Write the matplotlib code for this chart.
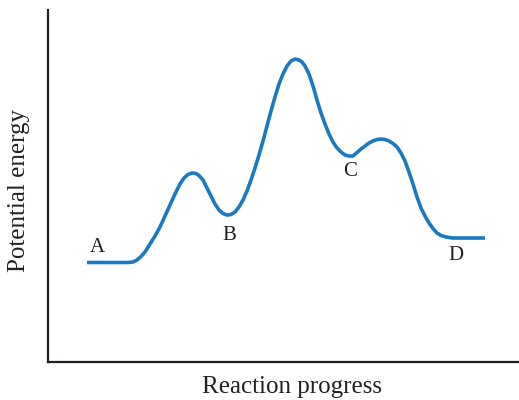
import matplotlib.pyplot as plt

# --- Curve (x = reaction progress, y = potential energy) ---
progress = [39, 80, 85, 89, 93, 97, 102, 107, 112, 117, 122, 127, 132, 136,
            140, 144, 148, 151, 155, 159, 163, 167, 171, 175, 179, 183, 187,
            191, 195, 199, 203, 207, 211, 215, 219, 223, 227, 231, 235, 239,
            243, 247, 251, 254, 257, 261, 265, 269, 273, 277, 281, 285, 289,
            293, 297, 301, 305, 309, 313, 317, 321, 325, 329, 333, 337, 341,
            345, 349, 353, 357, 361, 365, 369, 373, 377, 381, 385, 389, 393,
            398, 404, 437]
energy = [99.5, 99.5, 100, 102, 105.5, 110, 118, 126, 135, 146, 157, 168, 178,
          184, 187.5, 189, 188.5, 186.5, 182, 174, 166, 158, 152, 148.5, 147,
          147.5, 150, 155, 162, 171, 182, 194, 207, 221, 236, 251, 265, 278,
          288, 296, 301, 303, 302, 300, 296, 288, 276, 262, 249, 238, 228,
          220, 214, 210, 207, 206, 206, 209.5, 213, 216, 219, 221, 222.5, 223,
          222.5, 221, 218.5, 215, 209, 201, 190, 178, 165, 154, 146, 139,
          133.5, 129, 126.5, 125, 124, 124]

labels = ['A', 'B', 'C', 'D']
label_x = [49, 181, 302, 408]
label_y = [115, 127, 190, 106]

fig = plt.figure(figsize=(5.19, 4.0), dpi=100)
ax = fig.add_axes([48 / 519, 38 / 400, 471 / 519, 352 / 400])

ax.plot(progress, energy, color='#1b79c2', linewidth=2.6,
        solid_joinstyle='round', solid_capstyle='butt')

for lab, x, y in zip(labels, label_x, label_y):
    ax.text(x, y, lab, fontsize=15, family='Liberation Serif',
            color='#231f20', ha='center', va='center')

ax.set_xlim(0, 471)
ax.set_ylim(0, 352)
ax.set_xticks([])
ax.set_yticks([])
for side in ['top', 'right']:
    ax.spines[side].set_visible(False)
for side in ['left', 'bottom']:
    ax.spines[side].set_linewidth(1.6)
    ax.spines[side].set_color('#231f20')

fig.text(292 / 519, 13 / 400, 'Reaction progress', fontsize=18,
         family='Liberation Serif', color='#231f20', ha='center', va='center')
fig.text(19 / 519, 210 / 400, 'Potential energy', fontsize=18, rotation=90,
         family='Liberation Serif', color='#231f20', ha='center', va='center')

fig.savefig('out.png', dpi=100)
